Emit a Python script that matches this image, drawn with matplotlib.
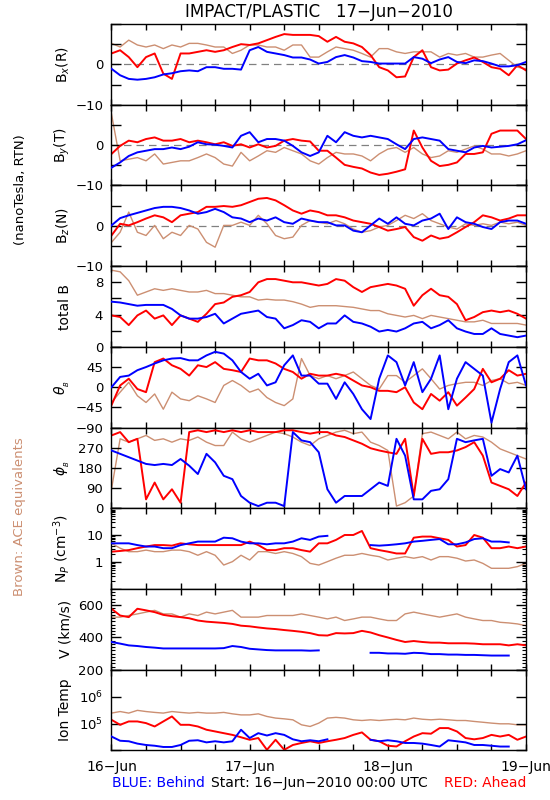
import numpy as np
import matplotlib
matplotlib.use('Agg')
import matplotlib.pyplot as plt
from matplotlib.ticker import (FixedLocator, FixedFormatter, MultipleLocator,
                               LogLocator, NullLocator, NullFormatter)

nan = np.nan

# hours since 16-Jun-2010 00:00 UTC, one reading every 1.5 h
hours = np.arange(0, 72.1, 1.5)

# RTN magnetic field components (nT): ace = brown, ahead = red, behind = blue
bx_ace = [5.2, 4.3, 6.0, 4.8, 4.3, 4.8, 3.9, 4.8, 4.3, 5.2, 5.2, 4.8, 4.3, 4.3, 2.7, 3.5, 4.8, 4.8, 4.3, 4.3, 3.5, 4.8, 4.8, 1.8, 1.8,
          3.1, 4.3, 3.9, 3.5, 2.7, 1.8, 3.9, 3.9, 3.1, 2.7, 3.1, 3.1, 3.1, 1.8, 2.7, 2.3, 2.7, 1.8, 1.8, 2.3, 2.7, 1.0, -0.7, -1.1]
bx_ahead = [2.7, 3.5, 1.8, -0.7, 1.8, 2.7, -2.3, -3.6, 2.7, 2.7, 3.1, 3.5, 3.1, 3.5, 4.3, 5.0, 4.8, 5.2, 6.0, 6.8, 7.5, 7.3, 7.3, 7.3, 7.0,
            5.6, 6.8, 5.6, 5.2, 4.3, 2.3, -0.7, -1.5, -3.2, -3.0, 1.8, 3.5, -0.7, -1.5, -1.3, 0.2, 1.0, 1.7, 0.6, -0.7, -1.1, -2.7, -0.2, -1.5]
bx_behind = [-1.1, -2.7, -3.6, -3.8, -3.6, -3.2, -2.5, -2.2, -1.7, -1.5, -1.7, -0.7, -0.7, -1.1, -1.1, -1.3, 3.5, 4.3, 3.1, 2.7, 2.3, 1.7, 1.7, 1.2, 0.2,
             0.6, 1.8, 2.3, 1.7, 0.8, 0.6, 0.2, 0.2, 0.2, 0.2, 1.8, 1.4, 0.3, 1.2, 1.8, 0.6, 0.3, 1.0, 0.8, 0.2, -0.5, -0.5, -0.2, 0.6]

by_ace = [7.7, -3.9, -3.5, -3.1, -3.9, -2.2, -4.7, -4.3, -3.9, -3.9, -3.1, -2.2, -3.1, -4.7, -5.2, -1.8, -3.9, -2.7, -1.4, -1.8, -0.6, -1.4, -2.2, -3.9, -4.7,
          -3.1, -1.8, -2.2, -2.2, -2.7, -3.9, -2.2, -1.0, -0.6, -1.8, -0.6, -2.2, -3.1, -2.7, -1.4, -1.8, -1.0, -0.2, -1.0, -2.2, -2.2, -2.7, -2.2, -1.4]
by_ahead = [-2.2, -0.2, 1.1, 0.7, 1.5, 1.9, 1.1, 1.1, 1.5, 0.7, 1.1, 0.7, 0.2, 0.7, -0.2, 0.2, -0.6, 0.2, -0.6, -0.2, 1.1, 1.5, 1.1, 0.9, -1.4,
            -1.4, -3.1, -4.9, -5.4, -5.8, -6.8, -7.4, -7.1, -6.6, -6.0, 3.6, -0.6, -3.9, -5.2, -4.9, -4.3, -2.2, -2.2, -1.8, 2.8, 3.6, 3.6, 3.6, 1.5]
by_behind = [-5.6, -4.3, -2.7, -1.8, -1.4, -1.0, -1.0, -0.6, -1.0, -0.4, 0.7, 0.2, 0.1, -0.2, -0.6, 2.3, 3.2, 0.7, 1.5, 1.5, 1.1, -0.2, -1.8, -2.7, -1.8,
             2.3, 0.7, 3.2, 2.3, 1.9, 2.3, 1.9, 1.5, 0.2, -1.0, 1.5, 1.9, 1.5, 1.1, -1.0, -1.4, -1.8, -0.6, -0.2, -0.6, -0.4, -0.2, 0.2, 1.2]

bz_ace = [-4.1, -1.6, 3.4, -1.6, -2.4, 0.1, -3.2, -1.6, -2.4, 0.1, -0.8, -4.1, -5.3, 0.1, 0.1, 0.9, 0.1, 2.6, 0.5, -2.4, -3.2, -2.8, 0.1, 1.3, 0.9,
          0.5, 1.3, 0.5, -0.8, -1.6, -1.2, -0.3, 0.1, 1.3, 2.6, 1.8, 3.0, 1.3, 0.5, -0.3, -0.8, 0.5, 0.1, 0.5, 0.1, 0.9, 0.5, 0.9, 0.1]
bz_ahead = [-2.4, 0.5, 0.1, 0.9, 1.8, 2.6, 2.1, 0.9, 2.6, 3.0, 3.4, 4.7, 4.7, 4.9, 4.7, 5.1, 5.9, 6.7, 6.9, 6.3, 5.1, 3.8, 3.0, 3.8, 3.4,
            2.6, 2.6, 2.1, 1.3, 0.9, 0.5, -0.3, -1.2, -0.8, -0.3, -2.8, -3.7, -2.4, -3.2, -2.8, -1.6, -0.3, 0.9, 2.6, 2.1, 1.3, 1.8, 2.6, 2.6]
bz_behind = [0.1, 1.9, 2.6, 3.2, 3.8, 4.4, 4.7, 4.7, 4.4, 3.8, 3.0, 3.4, 4.2, 3.4, 2.1, 1.8, 0.9, 1.8, 1.3, 2.1, 0.9, 0.5, 1.8, 1.3, 0.9,
             0.9, 0.1, 0.1, -1.2, -1.6, 0.1, 1.8, 0.5, 2.1, 0.5, 0.1, 1.3, 1.8, 3.0, -0.8, 2.1, 0.9, 0.5, -0.3, -0.8, 0.9, 1.3, 1.3, 0.5]

# total field (nT)
bt_ace = [9.5, 9.3, 8.2, 6.4, 6.8, 7.2, 7.0, 7.2, 7.0, 6.8, 6.8, 7.0, 6.6, 6.6, 6.4, 6.2, 6.2, 5.8, 5.9, 5.8, 5.8, 5.6, 5.3, 4.9, 5.1,
          5.1, 5.1, 5.0, 4.9, 4.7, 4.5, 4.5, 4.1, 3.9, 3.7, 3.9, 3.5, 3.9, 3.7, 3.5, 3.3, 3.1, 3.1, 3.3, 2.9, 2.9, 2.9, 2.9, 2.7]
bt_ahead = [3.9, 3.7, 2.7, 3.9, 4.5, 3.5, 3.9, 2.7, 3.9, 3.5, 3.1, 4.1, 5.3, 5.5, 6.2, 6.4, 6.8, 8.0, 8.4, 8.4, 8.2, 8.0, 8.0, 7.8, 7.6,
            7.8, 8.4, 8.2, 7.4, 6.8, 7.4, 7.6, 7.8, 7.6, 7.2, 5.1, 6.4, 7.2, 6.4, 6.2, 5.3, 3.3, 3.7, 4.3, 4.5, 4.3, 4.5, 4.1, 3.5]
bt_behind = [5.6, 5.5, 5.3, 5.1, 5.2, 5.2, 5.2, 4.7, 3.9, 3.5, 3.5, 3.7, 4.1, 2.9, 3.5, 4.1, 4.3, 4.5, 3.7, 3.5, 2.3, 2.7, 3.3, 3.1, 2.3,
             2.9, 2.9, 3.9, 3.1, 2.9, 2.5, 1.9, 2.1, 1.9, 2.3, 2.9, 3.1, 2.3, 2.7, 3.3, 2.3, 1.9, 1.6, 1.6, 2.3, 1.6, 1.4, 1.2, 1.4]

# field angles (deg)
theta_ace = [-34, -11, 11, -19, -34, -15, -49, -11, -26, -30, -19, -26, -34, 4, 15, 4, -11, -4, -23, -34, -41, -26, 64, 26, 19,
             26, 19, 26, 34, 19, 4, -4, 26, 26, 11, 26, 41, 19, -4, 4, 8, 11, 11, 4, 15, 19, 8, 11, 4]
theta_ahead = [-40, 4, 19, -4, -11, 56, 64, 49, 41, 26, 49, 45, 56, 41, 38, 34, 64, 60, 60, 53, 41, 34, 19, 30, 26,
               26, 30, 26, 15, 4, 0, -8, -8, -11, 0, -34, -49, -15, -30, -11, -41, -23, -4, 41, 11, 19, 38, 26, 30]
theta_behind = [0, 23, 26, 38, 45, 53, 60, 64, 65, 60, 60, 71, 79, 75, 60, 34, 19, 30, 4, 11, 49, 71, 26, 26, 8,
                8, -26, 11, -15, -49, -71, 19, 71, 56, 4, 56, -11, 19, 71, -49, 19, 56, 41, 26, -79, -4, 56, 71, 4]

phi_ace = [85, 310, 295, 310, 325, 303, 310, 295, 310, 303, 318, 295, 280, 280, 340, 310, 295, 310, 325, 340, 333, 318, 295, 280, 310,
           325, 340, 348, 333, 340, 295, 280, 258, 10, 25, 55, 333, 340, 325, 310, 340, 310, 325, 318, 295, 265, 250, 235, 220]
phi_ahead = [325, 340, 295, 310, 40, 115, 40, 85, 25, 340, 348, 340, 348, 340, 348, 340, 348, 340, 340, 340, 348, 348, 340, 333, 340,
             340, 325, 318, 303, 288, 268, 258, 250, 243, 310, 55, 310, 243, 250, 250, 258, 273, 295, 235, 115, 100, 85, 55, 115]
phi_behind = [258, 243, 228, 213, 198, 193, 198, 193, 220, 190, 153, 243, 205, 145, 130, 55, 25, 10, 25, 25, 10, 340, 303, 295, 250,
              85, 25, 55, 55, 55, 85, 115, 100, 310, 235, 40, 40, 78, 85, 130, 310, 295, 303, 310, 145, 175, 160, 235, 85]

# proton density (cm^-3)
np_ace = [5.0, 3.3, 2.45, 2.45, 2.8, 2.45, 2.45, 2.8, 2.8, 2.45, 1.8, 2.45, 1.8, 0.78, 1.04, 1.8, 1.2, 2.45, 2.45, 2.1, 2.45, 2.1, 1.6, 0.9, 0.78,
          1.04, 1.4, 1.8, 1.8, 2.1, 1.8, 1.6, 1.2, 1.4, 1.6, 1.4, 1.6, 1.2, 1.6, 1.6, 1.4, 1.1, 1.2, 0.9, 0.59, 0.59, 0.59, 0.68, 0.9]
np_ahead = [2.45, 2.6, 2.8, 3.3, 3.8, 4.3, 4.3, 4.1, 5.0, 4.6, 4.3, 4.3, 4.3, 4.3, 4.3, 4.3, 5.8, 4.3, 2.8, 2.8, 3.3, 3.3, 2.8, 2.45, 5.0,
            5.0, 6.7, 10.2, 10.2, 14.4, 3.3, 2.8, 2.45, 2.1, 2.1, 8.1, 8.9, 8.9, 7.7, 6.7, 3.8, 4.3, 10.2, 8.1, 3.3, 3.3, 3.8, 3.3, 3.8]
np_behind = [5.0, 5.0, 5.0, 4.3, 3.8, 3.8, 3.3, 3.3, 4.3, 5.0, 5.8, 5.8, 5.8, 8.1, 7.7, 5.8, 5.0, 5.0, 4.6, 5.0, 5.0, 5.8, 7.7, 6.7, 8.9,
             9.5, nan, nan, nan, nan, 4.3, 4.1, 4.3, 4.6, 5.0, 5.8, 6.2, 6.7, 7.2, 4.6, 4.6, 5.4, 7.2, 7.7, 5.8, 5.8, 5.4, nan, 6.2]

# bulk speed (km/s)
v_ace = [526, 526, 536, 546, 557, 568, 546, 546, 526, 546, 536, 557, 546, 557, 568, 526, 526, 526, 536, 536, 536, 536, 546, 536, 526,
         515, 526, 505, 515, 526, 526, 515, 505, 505, 546, 557, 546, 536, 526, 536, 546, 526, 515, 505, 505, 494, 490, 484, 473]
v_ahead = [578, 536, 526, 578, 568, 557, 540, 532, 526, 519, 505, 498, 494, 490, 484, 473, 469, 462, 456, 452, 446, 441, 435, 427, 414,
           412, 427, 425, 427, 441, 431, 414, 400, 385, 372, 378, 372, 368, 368, 364, 364, 364, 362, 358, 358, 358, 351, 358, 351]
v_behind = [372, 362, 351, 347, 341, 337, 332, 332, 332, 332, 332, 332, 332, 334, 347, 341, 330, 326, 322, 320, 320, 320, 320, 318, 320,
            nan, nan, nan, nan, nan, 305, 305, 301, 301, 299, 305, 303, 297, 297, 294, 294, 292, 292, 290, 288, 288, 288, nan, 284]

# proton temperature (K)
temp_ace = [2.45e5, 2.8e5, 2.45e5, 3.1e5, 2.8e5, 2.6e5, 2.45e5, 2.8e5, 2.6e5, 2.45e5, 2.6e5, 2.45e5, 2.45e5, 2.6e5, 2.3e5, 2.1e5, 2.1e5,
            2.3e5, 1.84e5, 1.6e5, 1.5e5, 1.38e5, 9.0e4, 7.8e4, 1.04e5, 1.6e5, 1.7e5, 1.6e5, 1.38e5, 1.3e5, 1.38e5, 1.3e5, 1.38e5,
            1.45e5, 1.38e5, 1.6e5, 1.45e5, 1.38e5, 1.45e5, 1.38e5, 1.3e5, 1.3e5, 1.2e5, 1.12e5, 1.04e5, 9.8e4, 9.8e4, 9.0e4, 9.0e4]
temp_ahead = [1.38e5, 9.0e4, 1.2e5, 1.2e5, 1.04e5, 7.8e4, 1.2e5, 1.84e5, 9.0e4, 9.0e4, 7.8e4, 5.9e4, 5.1e4, 4.4e4, 3.8e4, 3.1e4, 2.5e4,
              2.9e4, 1.06e4, 2.5e4, 1.06e4, 1.6e4, 1.9e4, 2.2e4, 1.9e4, 2.2e4, 2.5e4, 2.9e4, 3.8e4, 4.7e4, 2.5e4, 2.2e4, 1.5e4,
              1.41e4, 2.2e4, 3.3e4, 4.4e4, 4.2e4, 6.8e4, 6.8e4, 5.1e4, 2.9e4, 2.6e4, 2.9e4, 3.8e4, 3.3e4, 3.8e4, 2.5e4, 3.3e4]
temp_behind = [3.3e4, 2.3e4, 2.2e4, 1.8e4, 1.6e4, 1.5e4, 1.35e4, 1.35e4, 1.6e4, 2.3e4, 2.4e4, 2.0e4, 2.2e4, 2.0e4, 2.2e4, 5.9e4, 2.9e4,
               4.4e4, 3.6e4, 4.4e4, 3.8e4, 2.6e4, 2.2e4, 2.4e4, 2.2e4, 2.6e4, nan, nan, nan, nan, 2.5e4, 2.2e4, 2.4e4,
               2.2e4, 1.9e4, 1.9e4, 1.8e4, 1.6e4, 1.4e4, 2.4e4, 2.2e4, 2.0e4, 1.6e4, 1.6e4, 1.5e4, 1.4e4, 1.4e4, nan, 1.22e4]

day_labels = ['16\u2212Jun', '17\u2212Jun', '18\u2212Jun', '19\u2212Jun']

RED = '#ff0000'
BLUE = '#0000ff'
BROWN = '#cc8f72'
M = '\u2212'

panels = [
    (bx_ace, bx_ahead, bx_behind, 'B$_x$(R)', (-10, 10), [-10, -5, 0, 5, 10], [M + '10', '', '0', '', ''], False),
    (by_ace, by_ahead, by_behind, 'B$_y$(T)', (-10, 10), [-10, -5, 0, 5, 10], [M + '10', '', '0', '', ''], False),
    (bz_ace, bz_ahead, bz_behind, 'B$_z$(N)', (-10, 10), [-10, -5, 0, 5, 10], [M + '10', '', '0', '', ''], False),
    (bt_ace, bt_ahead, bt_behind, 'total B', (0, 10), [0, 2, 4, 6, 8, 10], ['0', '', '4', '', '8', ''], False),
    (theta_ace, theta_ahead, theta_behind, r'$\theta_{_B}$', (-90, 90), [-90, -45, 0, 45, 90],
     [M + '90', M + '45', '0', '45', ''], False),
    (phi_ace, phi_ahead, phi_behind, r'$\phi_{_B}$', (0, 360), [0, 90, 180, 270, 360], ['0', '90', '180', '270', ''], False),
    (np_ace, np_ahead, np_behind, 'N$_P$ (cm$^{-3}$)', (0.1, 100), [0.1, 1, 10, 100], ['', '1', '10', ''], True),
    (v_ace, v_ahead, v_behind, 'V (km/s)', (200, 700), [200, 400, 600], ['200', '400', '600'], False),
    (temp_ace, temp_ahead, temp_behind, 'Ion Temp', (1e4, 1e7), [1e4, 1e5, 1e6, 1e7], ['', '$10^5$', '$10^6$', ''], True),
]

fig, axes = plt.subplots(9, 1, figsize=(5.5, 8), dpi=100, sharex=True)
fig.subplots_adjust(left=0.2027, right=0.9564, top=0.97, bottom=0.0619, hspace=0)

for i, (ax, (ace, ahead, behind, label, ylim, ticks, ticklabels, logy)) in enumerate(zip(axes, panels)):
    if logy:
        ax.set_yscale('log')
    if i < 3:
        ax.axhline(0, color='#808080', lw=0.9, ls=(0, (6, 4)), zorder=0.5)
    ax.plot(hours, ace, color=BROWN, lw=1.0, zorder=1)
    ax.plot(hours, ahead, color=RED, lw=1.4, zorder=2)
    ax.plot(hours, behind, color=BLUE, lw=1.4, zorder=3)
    ax.set_ylim(*ylim)
    ax.yaxis.set_major_locator(FixedLocator(ticks))
    ax.yaxis.set_major_formatter(FixedFormatter(ticklabels))
    if label == 'N$_P$ (cm$^{-3}$)':
        ax.yaxis.set_minor_locator(LogLocator(base=10, subs=np.arange(2, 10)))
        ax.yaxis.set_minor_formatter(NullFormatter())
    elif label == 'V (km/s)':
        ax.yaxis.set_minor_locator(MultipleLocator(20))
    else:
        ax.yaxis.set_minor_locator(NullLocator())
    ax.set_ylabel(label, fontsize=10)
    ax.yaxis.set_label_coords(-0.095, 0.5)
    ax.tick_params(axis='y', which='major', direction='in', left=True, right=True,
                   length=7, width=1, labelsize=9.5, pad=6)
    ax.tick_params(axis='y', which='minor', direction='in', left=True, right=True,
                   length=3, width=0.8)
    ax.tick_params(axis='x', which='both', direction='in', top=True, bottom=True,
                   length=4, width=1)
    for sp in ax.spines.values():
        sp.set_linewidth(1)

ax = axes[-1]
ax.set_xlim(0, 72)
ax.xaxis.set_major_locator(FixedLocator([0, 24, 48, 72]))
ax.xaxis.set_major_formatter(FixedFormatter(day_labels))
ax.xaxis.set_minor_locator(MultipleLocator(6))
ax.tick_params(axis='x', labelsize=10, pad=7)

fig.text(319 / 550, 1 - 12 / 800, 'IMPACT/PLASTIC   17\u2212Jun\u22122010', ha='center', va='center', fontsize=12)
fig.text(21 / 550, 1 - 190 / 800, '(nanoTesla, RTN)', rotation=90, ha='center', va='center', fontsize=9.5)
fig.text(20 / 550, 1 - 517 / 800, 'Brown: ACE equivalents', rotation=90, ha='center', va='center',
         fontsize=9.5, color=BROWN)
fig.text(111.5 / 550, 1 - 783 / 800, 'BLUE: Behind', color=BLUE, ha='left', va='center', fontsize=10)
fig.text(319 / 550, 1 - 783 / 800, 'Start: 16\u2212Jun\u22122010 00:00 UTC', ha='center', va='center', fontsize=10)
fig.text(526 / 550, 1 - 783 / 800, 'RED: Ahead', color=RED, ha='right', va='center', fontsize=10)

fig.savefig('out.png', dpi=100)
